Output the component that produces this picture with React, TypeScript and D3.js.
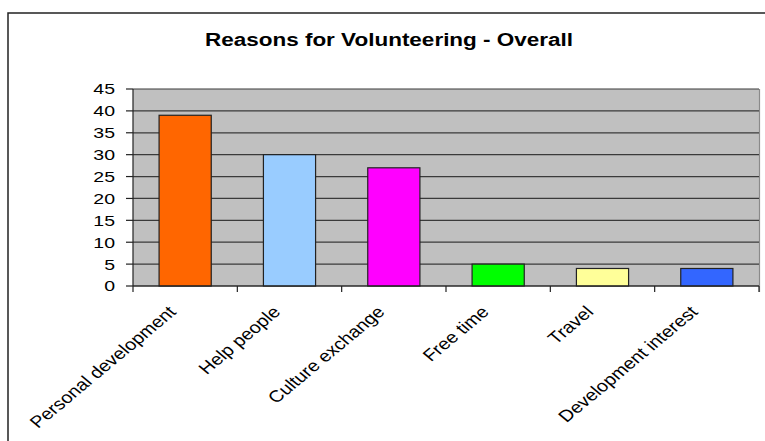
import React from "react";
import * as d3 from "d3";

const categories = [
  "Personal development",
  "Help people",
  "Culture exchange",
  "Free time",
  "Travel",
  "Development interest",
];
const values = [39, 30, 27, 5, 4, 4];
const barColors = ["#FF6600", "#99CCFF", "#FF00FF", "#00FF00", "#FFFF99", "#3366FF"];
const yTicks = [0, 5, 10, 15, 20, 25, 30, 35, 40, 45];
const title = "Reasons for Volunteering - Overall";

const W = 765;
const H = 441;
const plot = { left: 133, right: 759, top: 89, bottom: 286 };
const SX = 1.3; // horizontal text stretch for tick numbers
const LSX = 1.2; // horizontal stretch for slanted category labels
const FONT = "Arial, 'Liberation Sans', Helvetica, sans-serif";

export default function App() {
  const x = d3
    .scaleBand<string>()
    .domain(categories)
    .range([plot.left, plot.right])
    .paddingInner(0.5)
    .paddingOuter(0.25);
  const y = d3.scaleLinear().domain([0, 45]).range([plot.bottom, plot.top]);
  const step = x.step();
  const boundaries = d3.range(categories.length + 1).map((i) => plot.left + i * step);

  return (
    <svg
      width={W}
      height={H}
      style={{ position: "fixed", left: 0, top: 0, background: "#fff", overflow: "hidden" }}
      fontFamily={FONT}
    >
      {/* chart frame (continues past the right and bottom edges) */}
      <path d={`M8,${H} V13 H${W}`} fill="none" stroke="#222" strokeWidth={1.5} />

      {/* title */}
      <text
        transform={`translate(389,46) scale(1.25,1)`}
        textAnchor="middle"
        fontSize={18}
        fontWeight="bold"
        fill="#000"
      >
        {title}
      </text>

      {/* plot background */}
      <rect
        x={plot.left}
        y={plot.top}
        width={plot.right - plot.left}
        height={plot.bottom - plot.top}
        fill="#C0C0C0"
      />
      <line x1={plot.right + 0.5} x2={plot.right + 0.5} y1={plot.top} y2={plot.bottom + 6} stroke="#8a8a8a" strokeWidth={1.2} />

      {/* gridlines */}
      {yTicks.map((t) => (
        <line
          key={`g${t}`}
          x1={plot.left}
          x2={plot.right}
          y1={y(t)}
          y2={y(t)}
          stroke="#3a3a3a"
          strokeWidth={1.2}
        />
      ))}

      {/* bars */}
      {categories.map((c, i) => (
        <rect
          key={c}
          x={x(c)}
          y={y(values[i])}
          width={x.bandwidth()}
          height={y(0) - y(values[i])}
          fill={barColors[i]}
          stroke="#222"
          strokeWidth={1.2}
        />
      ))}

      {/* y axis */}
      <line x1={plot.left} x2={plot.left} y1={plot.top} y2={plot.bottom} stroke="#222" strokeWidth={1.2} />
      {yTicks.map((t) => (
        <g key={`t${t}`}>
          <line x1={plot.left - 7} x2={plot.left} y1={y(t)} y2={y(t)} stroke="#222" strokeWidth={1.2} />
          <text
            transform={`translate(115,${y(t)}) scale(${SX},1)`}
            textAnchor="end"
            dy="0.36em"
            fontSize={15}
            fill="#000"
          >
            {t}
          </text>
        </g>
      ))}

      {/* x axis */}
      <line x1={plot.left} x2={plot.right} y1={plot.bottom} y2={plot.bottom} stroke="#222" strokeWidth={1.2} />
      {boundaries.map((bx, i) => (
        <line key={`xt${i}`} x1={bx} x2={bx} y1={plot.bottom} y2={plot.bottom + 6} stroke="#222" strokeWidth={1.2} />
      ))}
      {categories.map((c) => {
        const cx = (x(c) ?? 0) + x.bandwidth() / 2;
        return (
          <text
            key={`l${c}`}
            transform={`translate(${cx - 8},${plot.bottom + 27}) scale(${LSX},1) rotate(-45)`}
            textAnchor="end"
            fontSize={16.5}
            fill="#000"
          >
            {c}
          </text>
        );
      })}
    </svg>
  );
}
